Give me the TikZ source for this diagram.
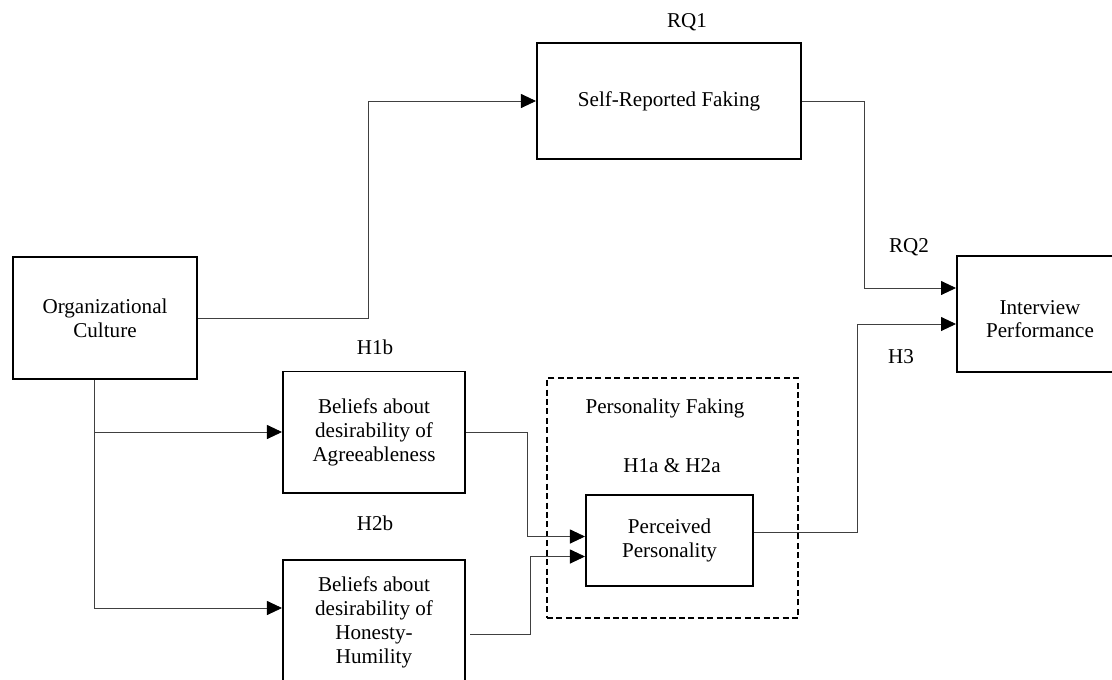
\documentclass[tikz,border=0pt]{standalone}
\usepackage{fontspec}
\setmainfont{Liberation Serif}
\usetikzlibrary{arrows.meta,calc}
\begin{document}
\begin{tikzpicture} [x = 0.025cm, y = -0.025cm,
	font = \fontsize{15}{17}\selectfont,
	box/.style = {draw, line width = 1.4pt, align = center, inner sep = 0pt},
	conn/.style = {draw = black!75, line width = 0.6pt, -{Triangle[length = 0.375cm, width = 0.35cm, color = black]}},
	lbl/.style = {inner sep = 0pt}]
	\useasboundingbox (0,0) rectangle (1112,679);
	%\draw [help lines] (0,0) grid [step = 50] (1112,679);
	\node [box, minimum width = 4.6cm, minimum height = 3.05cm] (org) at (105,318) {Organizational\\Culture};
	\node [box, minimum width = 6.6cm, minimum height = 2.9cm] (self) at (669,101) {Self-Reported Faking};
	\node [box, minimum width = 4.15cm, minimum height = 2.9cm, text height = 1.2cm] (inter) at (1040,314) {Interview\\Performance};
	\node [box, minimum width = 4.55cm, minimum height = 3.025cm] (agree) at (374,432) {Beliefs about\\desirability of\\Agreeableness};
	\node [box, minimum width = 4.55cm, minimum height = 3.1cm] (honest) at (374,622) {Beliefs about\\desirability of\\Honesty-\\Humility};
	%\node [box] (faking) ...
	\node [draw, line width = 1.3pt, dash pattern = on 4.3pt off 2.4pt, minimum width = 6.275cm, minimum height = 6cm] (faking) at (672.5,498) {};
	\node [box, minimum width = 4.175cm, minimum height = 2.275cm] (perc) at (669.5,540.5) {Perceived\\Personality};
	%labels
	\node [lbl] (rq1) at (687,22) {RQ1};
	\node [lbl] (rq2) at (909,247) {RQ2};
	\node [lbl] (h3) at (901,357) {H3};
	\node [lbl] (h1b) at (375,347) {H1b};
	\node [lbl] (h2b) at (375,523) {H2b};
	\node [lbl] (pf) at (665,408) {Personality Faking};
	\node [lbl] (h1a) at (672,466) {H1a \& H2a};
	%arrows
	\coordinate (trunk) at ($(org.south)+(-11,0)$);
	\draw [conn] (org.east) -- ++(170,0) |- (self.west); %RQ1
	\draw [conn] (self.east) -- ++(62,0) |- ($(inter.west)+(0,-26)$); %RQ2
	\draw [conn] ($(perc.east)+(0,-8)$) -- ++(103,0) |- ($(inter.west)+(0,10)$); %H3
	\draw [conn] (trunk) |- ($(honest.west)+(0,-14)$); %H2b
	\draw [conn] (trunk |- agree.west) -- (agree.west); %H1b
	\draw [conn] (agree.east) -- ++(61,0) |- ($(perc.west)+(0,-4)$);
	\draw [conn] ($(honest.east)+(4,12)$) -- ++(60,0) |- ($(perc.west)+(0,16)$);
\end{tikzpicture}
\end{document}
